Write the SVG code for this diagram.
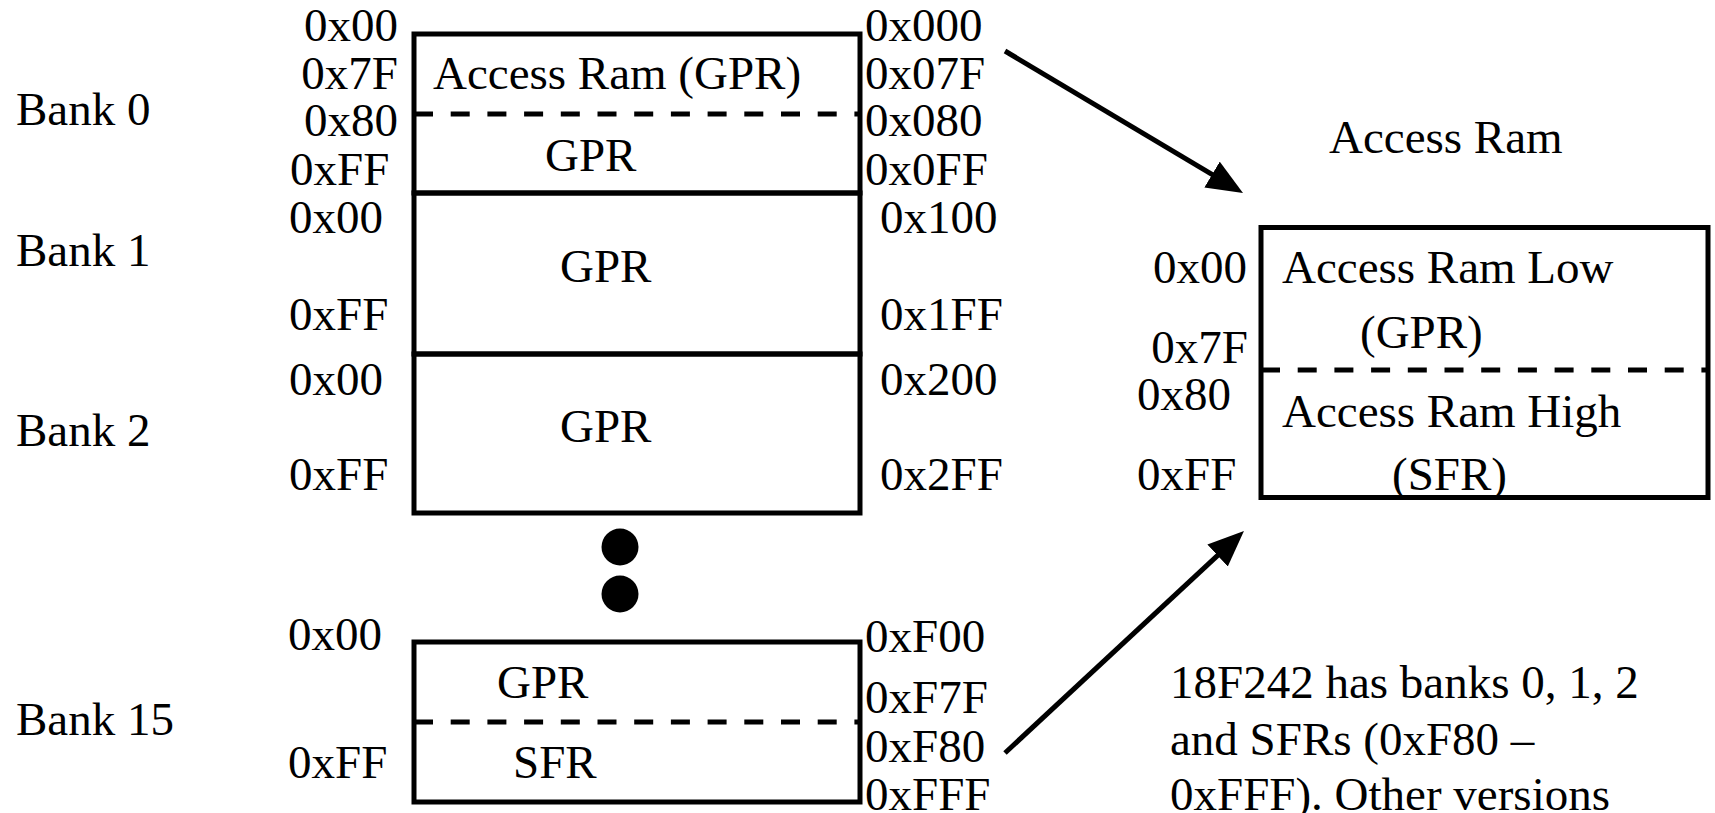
<svg xmlns="http://www.w3.org/2000/svg" width="1715" height="813" viewBox="0 0 1715 813">
  <style>
    text { font-family: "Liberation Serif", "Times New Roman", serif; font-size: 47px; fill: #000; }
    .box { fill: none; stroke: #000; stroke-width: 5; }
    .rule { stroke: #000; stroke-width: 5; }
    .dash { stroke: #000; stroke-width: 5; stroke-dasharray: 19 17.7; }
    .end { text-anchor: end; }
    .link { stroke: #000; stroke-width: 5; fill: none; marker-end: url(#head); }
  </style>
  <defs>
    <marker id="head" markerUnits="userSpaceOnUse" markerWidth="38" markerHeight="32" refX="16" refY="15" orient="auto">
      <path d="M0,0 L36,15 L0,30 z" fill="#000"/>
    </marker>
  </defs>
  <rect width="1715" height="813" fill="#fff"/>

  <!-- bank labels -->
  <g id="bank-labels">
    <text x="16" y="125">Bank 0</text>
    <text x="16" y="266">Bank 1</text>
    <text x="16" y="446">Bank 2</text>
    <text x="16" y="735">Bank 15</text>
  </g>

  <!-- banks 0..2 stacked block -->
  <g id="bank0">
    <rect class="box" x="414" y="34" width="446" height="159"/>
    <line class="dash" x1="414" y1="114" x2="860" y2="114"/>
    <text x="433" y="89">Access Ram (GPR)</text>
    <text x="545" y="171">GPR</text>
    <text class="end" x="398" y="41">0x00</text>
    <text class="end" x="398" y="89">0x7F</text>
    <text class="end" x="398" y="136">0x80</text>
    <text x="290" y="185">0xFF</text>
    <text x="865" y="41">0x000</text>
    <text x="865" y="89">0x07F</text>
    <text x="865" y="136">0x080</text>
    <text x="865" y="185">0x0FF</text>
  </g>
  <g id="bank1">
    <rect class="box" x="414" y="193" width="446" height="161"/>
    <text x="560" y="282">GPR</text>
    <text x="289" y="233">0x00</text>
    <text x="289" y="330">0xFF</text>
    <text x="880" y="233">0x100</text>
    <text x="880" y="330">0x1FF</text>
  </g>
  <g id="bank2">
    <rect class="box" x="414" y="354" width="446" height="159"/>
    <text x="560" y="442">GPR</text>
    <text x="289" y="395">0x00</text>
    <text x="289" y="490">0xFF</text>
    <text x="880" y="395">0x200</text>
    <text x="880" y="490">0x2FF</text>
  </g>

  <!-- ellipsis between bank 2 and bank 15 -->
  <g id="gap-dots">
    <circle cx="620" cy="547" r="18.5" fill="#000"/>
    <circle cx="620" cy="594" r="18.5" fill="#000"/>
  </g>

  <g id="bank15">
    <rect class="box" x="414" y="642" width="446" height="160"/>
    <line class="dash" x1="414" y1="722" x2="860" y2="722"/>
    <text x="497" y="698">GPR</text>
    <text x="513" y="778">SFR</text>
    <text x="288" y="650">0x00</text>
    <text x="288" y="778">0xFF</text>
    <text x="865" y="652">0xF00</text>
    <text x="865" y="713">0xF7F</text>
    <text x="865" y="762">0xF80</text>
    <text x="865" y="810">0xFFF</text>
  </g>

  <!-- access bank view -->
  <g id="access-ram">
    <text x="1329" y="153">Access Ram</text>
    <rect class="box" x="1261" y="227.5" width="447" height="270"/>
    <line class="dash" x1="1261" y1="370" x2="1708" y2="370"/>
    <text x="1282" y="283">Access Ram Low</text>
    <text x="1360" y="348">(GPR)</text>
    <text x="1282" y="427">Access Ram High</text>
    <text x="1392" y="490">(SFR)</text>
    <text class="end" x="1247" y="283">0x00</text>
    <text class="end" x="1248" y="363">0x7F</text>
    <text x="1137" y="410">0x80</text>
    <text x="1137" y="490">0xFF</text>
  </g>

  <g id="note">
    <text x="1170" y="698">18F242 has banks 0, 1, 2</text>
    <text x="1170" y="755">and SFRs (0xF80 –</text>
    <text x="1170" y="810">0xFFF). Other versions</text>
  </g>

  <g id="connectors">
    <line class="link" x1="1005" y1="51" x2="1225.8" y2="182.7"/>
    <line class="link" x1="1005" y1="753" x2="1229.3" y2="544.6"/>
  </g>
</svg>
